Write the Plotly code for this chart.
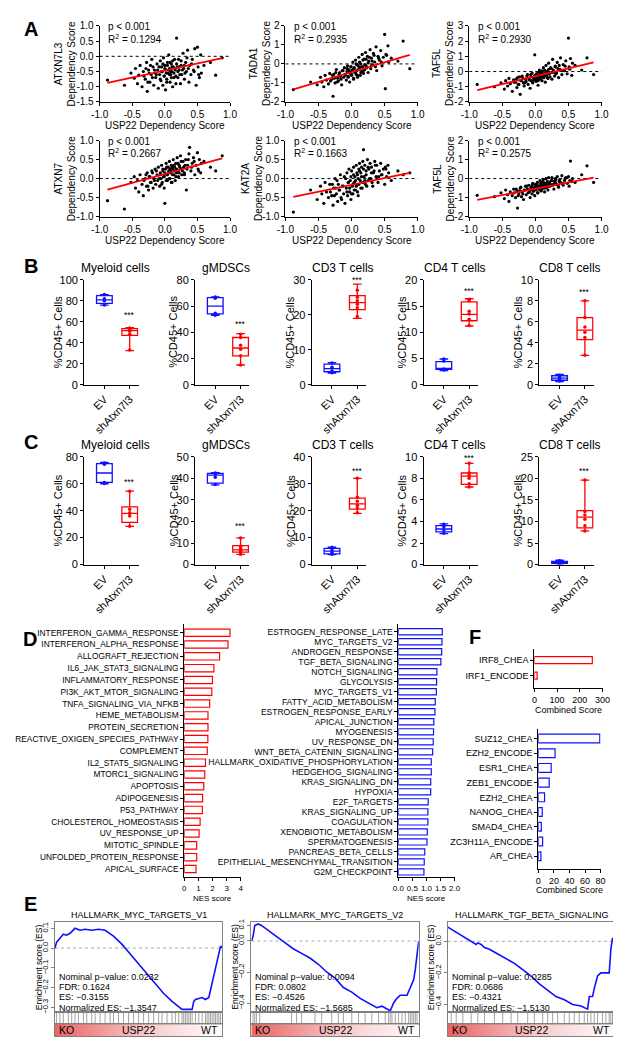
import plotly.graph_objects as go

W, H = 621, 1038
FONT = "Liberation Sans, Arial, Helvetica, sans-serif"
BLUE = "#1010FF"
RED = "#FF0000"

# ---------------- Panel A data (cell lines: USP22 vs partner dependency) ----------------
usp22_score = [
    -0.88, -0.62, -0.52, -0.47, -0.45, -0.42, -0.40, -0.38, -0.35, -0.33,
    -0.30, -0.28, -0.27, -0.25, -0.23, -0.21, -0.20, -0.18, -0.17, -0.15,
    -0.14, -0.12, -0.11, -0.10, -0.08, -0.07, -0.06, -0.05, -0.04, -0.03,
    -0.02, -0.01, 0.00, 0.01, 0.02, 0.03, 0.04, 0.05, 0.06, 0.07,
    0.08, 0.09, 0.10, 0.11, 0.12, 0.13, 0.14, 0.15, 0.16, 0.17,
    0.18, 0.19, 0.20, 0.21, 0.22, 0.24, 0.25, 0.26, 0.28, 0.29,
    0.30, 0.32, 0.33, 0.35, 0.37, 0.38, 0.40, 0.42, 0.44, 0.46,
    0.48, 0.50, 0.51, 0.53, 0.55, 0.56, 0.60, 0.70, 0.78, 0.88,
    -0.32, -0.29, -0.26, -0.24, -0.22, -0.19, -0.16, -0.13, -0.09, -0.07,
    -0.05, -0.03, -0.01, 0.00, 0.02, 0.03, 0.04, 0.06, 0.07, 0.08,
    0.09, 0.10, 0.11, 0.12, 0.14, 0.15, 0.17, 0.18, 0.20, 0.22,
    0.23, 0.25, 0.27, 0.30, 0.31, 0.34, 0.36, 0.41, 0.45, 0.52]
atxn7l3_score = [
    -0.78, -0.95, -0.55, -0.72, -0.40, -0.90, -0.62, -0.30, -1.00, -0.50,
    -0.75, -0.20, -1.15, -0.45, -0.85, -0.60, -0.10, -0.35, -0.95, -0.55,
    -0.70, -0.25, -0.45, -1.05, -0.60, -0.15, -0.80, -0.35, -0.50, -0.95,
    -0.05, -0.65, -0.30, -1.10, -0.45, -0.75, -0.20, -0.55, 0.05, -0.40,
    -0.85, -0.60, -0.25, -0.50, -1.00, -0.35, -0.70, -0.10, -0.45, -0.90,
    0.60, -0.35, -0.70, -0.10, -0.45, -0.90, -0.30, -0.60, 0.10, -0.40,
    -0.75, -0.20, -0.50, 0.20, -0.85, -0.30, -0.60, -0.10, -0.45, 0.25,
    -0.95, 0.30, -0.35, -0.70, 0.05, -0.55, -0.30, -0.20, -0.62, -0.05,
    -0.65, -0.40, -0.85, -0.55, -0.30, -0.70, -0.45, -0.60, -0.35, -0.75,
    -0.50, -0.25, -0.65, -0.40, -0.55, -0.85, -0.30, -0.45, -0.60, -0.20,
    -0.50, -0.70, -0.35, -0.15, -0.55, -0.40, -0.65, -0.25, -0.50, -0.35,
    -0.60, -0.15, -0.45, -0.30, -0.55, -0.05, -0.40, -0.25, -0.50, -0.60]
tada1_score = [
    -1.35, -0.95, -1.10, -0.70, -0.95, -1.20, -0.60, -0.85, -1.05, -0.50,
    -0.80, -1.70, -0.55, -1.00, -0.30, -0.75, -0.90, -0.45, -0.65, -1.10,
    -0.35, -0.70, -0.20, -0.55, -0.85, -0.40, -0.10, -0.65, -0.30, -0.95,
    -0.50, -0.15, -0.60, -0.35, 0.10, -0.80, -0.25, -0.45, 0.20, -0.55,
    -0.05, -0.70, -0.30, 0.35, -0.20, -0.60, 0.00, -0.40, 0.50, -0.15,
    -0.50, 0.25, -0.30, 0.60, -0.10, 0.40, -0.45, 0.15, 0.75, -0.25,
    0.30, -0.05, 0.55, 0.10, 0.90, -0.35, 0.40, 0.20, 0.70, -0.10,
    0.35, 1.55, -1.30, 0.45, 0.95, 0.10, 0.30, 0.15, 1.20, -0.25,
    -0.90, -0.60, -0.75, -0.45, -0.95, -0.55, -0.80, -0.35, -0.60, -0.25,
    -0.70, -0.40, -0.15, -0.55, -0.30, -0.75, -0.20, -0.45, 0.00, -0.35,
    -0.60, -0.10, -0.30, 0.10, -0.45, -0.15, 0.20, -0.35, -0.05, 0.25,
    -0.20, 0.05, 0.35, -0.10, 0.15, 0.45, -0.15, 0.30, 0.10, 0.50]
taf5l_score_a = [
    -0.85, -1.00, -0.75, -1.15, -0.60, -0.95, -0.45, -0.80, -1.30, -0.55,
    -0.70, -1.05, -0.40, -0.85, -1.50, -0.60, -0.30, -0.75, -0.95, -0.50,
    -0.65, -0.20, -0.85, -0.45, -1.10, -0.35, -0.60, -0.10, -0.75, -0.40,
    -0.55, 1.10, -0.30, -0.65, -0.15, -0.45, -0.90, -0.25, 0.10, -0.50,
    -0.35, -0.05, -0.60, -0.20, 0.25, -0.40, -0.10, -0.70, 0.40, -0.25,
    0.00, -0.45, 0.55, -0.15, -0.35, 0.20, -0.50, 0.80, -0.05, -0.30,
    0.35, -0.10, 0.60, -0.40, 0.15, 0.90, -0.20, 0.45, 0.05, 0.70,
    -0.15, 2.20, 0.30, 0.85, -0.25, 0.55, 0.40, 0.10, 0.90, -0.20,
    -0.70, -0.50, -0.85, -0.35, -0.60, -0.45, -0.75, -0.30, -0.55, -0.20,
    -0.65, -0.40, -0.25, -0.50, -0.15, -0.35, -0.60, -0.05, -0.30, -0.45,
    -0.15, 0.05, -0.35, -0.20, 0.10, -0.25, 0.00, -0.40, 0.15, -0.10,
    0.25, -0.05, 0.10, 0.30, -0.15, 0.20, 0.40, 0.05, 0.35, 0.15]
atxn7_score = [
    -0.58, -0.80, -0.10, 0.05, -0.25, -0.05, -0.35, 0.10, -0.15, -0.45,
    0.00, -0.20, 0.15, -0.30, 0.05, -0.10, 0.20, -0.25, 0.00, 0.25,
    -0.15, 0.10, -0.05, 0.30, -0.20, 0.15, 0.00, 0.35, -0.10, 0.20,
    0.05, -0.25, -0.65, 0.25, 0.40, 0.10, -0.05, 0.30, 0.15, 0.45,
    0.00, 0.20, 0.35, -0.10, 0.25, 0.50, 0.10, 0.30, -0.05, 0.40,
    0.15, 0.55, 0.20, 0.05, 0.35, 0.60, 0.25, 0.10, 0.45, 0.30,
    0.15, 0.50, -0.30, 0.35, 0.65, 0.82, 0.20, 0.40, 0.55, 0.10,
    0.35, 0.68, 0.25, 0.50, 0.15, 0.40, 0.45, 0.30, 0.20, 0.60,
    -0.05, 0.10, -0.20, 0.05, -0.10, 0.15, -0.05, 0.20, 0.00, 0.10,
    -0.15, 0.25, 0.05, 0.15, -0.05, 0.30, 0.10, 0.20, 0.00, 0.25,
    0.15, -0.10, 0.30, 0.10, 0.35, 0.20, 0.05, 0.25, 0.40, 0.15,
    0.30, 0.45, 0.20, 0.10, 0.35, 0.25, 0.50, 0.30, 0.45, 0.20]
kat2a_score = [
    -0.88, -0.30, -0.55, -0.20, -0.40, -0.65, -0.10, -0.35, -0.50, -0.15,
    -0.45, -0.70, -0.25, 0.00, -0.40, -0.60, -0.15, -0.30, 0.10, -0.55,
    -0.20, -0.40, 0.05, -0.65, -0.25, 0.15, -0.45, -0.10, 0.25, -0.35,
    -0.05, -0.55, 0.20, -0.20, -0.40, 0.30, -0.10, 0.05, -0.30, 0.35,
    -0.15, 0.10, -0.45, 0.25, 0.40, -0.05, 0.15, 0.30, -0.25, 0.45,
    0.76, 0.05, 0.35, -0.15, 0.20, 0.50, -0.05, 0.25, 0.40, 0.00,
    0.30, -0.20, 0.15, 0.45, 0.05, 0.35, -0.10, 0.20, 0.40, 0.10,
    0.25, -0.15, 0.30, 0.05, 0.35, 0.15, -0.05, 0.20, 0.10, 0.15,
    -0.35, -0.15, -0.45, -0.25, -0.05, -0.30, -0.50, -0.20, 0.00, -0.35,
    -0.10, -0.25, 0.05, -0.40, -0.15, 0.10, -0.30, -0.05, -0.20, 0.15,
    -0.35, 0.00, -0.15, 0.20, -0.25, 0.05, -0.10, 0.25, -0.05, 0.10,
    -0.20, 0.30, 0.00, 0.15, -0.10, 0.20, 0.35, 0.05, 0.10, 0.25]
taf5l_score_b = [
    -0.88, -0.95, -0.75, -1.05, -0.60, -0.85, -1.20, -0.70, -0.90, -0.55,
    -1.00, -0.65, -1.55, -0.80, -0.50, -0.95, -0.70, -1.10, -0.60, -0.40,
    -0.85, -0.55, -0.75, -0.35, -1.00, -0.60, -0.45, -0.80, -0.25, -0.65,
    -0.50, -0.90, -0.30, -0.60, -0.45, -0.20, -0.75, -0.40, -0.55, -0.10,
    -0.35, -0.65, -0.20, -0.50, -0.05, -0.40, -0.70, -0.25, 0.00, -0.45,
    -0.30, -0.60, 0.05, -0.20, -0.40, -0.10, 0.05, -0.35, -0.55, -0.15,
    0.00, -0.30, 0.10, -0.45, -0.05, -0.20, 0.15, -0.35, -0.10, 0.05,
    -0.25, 0.10, -0.40, 0.92, -0.15, 0.00, -0.20, 0.20, 0.67, -0.20,
    -0.75, -0.55, -0.90, -0.65, -0.45, -0.80, -0.60, -0.40, -0.70, -0.50,
    -0.35, -0.65, -0.45, -0.55, -0.30, -0.75, -0.50, -0.40, -0.60, -0.25,
    -0.45, -0.55, -0.35, -0.20, -0.50, -0.30, -0.45, -0.15, -0.40, -0.25,
    -0.35, -0.10, -0.30, -0.20, -0.05, -0.35, -0.15, -0.25, 0.00, -0.10]
a_genes = ["ATXN7L3", "TADA1", "TAF5L", "ATXN7", "KAT2A", "TAF5L"]
a_r2 = ["0.1294", "0.2935", "0.2930", "0.2667", "0.1663", "0.2575"]
a_fit_slope = [0.463, 1.03, 1.03, 0.466, 0.358, 0.665]
a_fit_intercept = [-0.468, -0.43, -0.31, 0.12, -0.165, -0.535]
a_yrange = [[-1.5, 1.0], [-2, 2], [-2, 3], [-1, 1], [-1, 1], [-2, 2]]
a_ydtick = [0.5, 1, 1, 0.5, 0.5, 1]

# ---------------- Panels B / C data ----------------
cell_titles = ["Myeloid cells", "gMDSCs", "CD3 T cells", "CD4 T cells", "CD8 T cells"]
groups = ["EV", "shAtxn7l3"]
b_ymax = [100, 80, 30, 20, 10]
b_dtick = [20, 20, 10, 5, 2]
# stats: [lowerfence, q1, median, q3, upperfence]
b_ev_stats = [[76, 77.5, 81, 85, 86], [53, 54, 60, 66.5, 67], [3.3, 3.7, 4.6, 5.9, 6.3],
              [2.7, 2.9, 3.1, 4.4, 4.9], [0.3, 0.42, 0.62, 0.85, 0.97]]
b_sh_stats = [[32.5, 47, 51.5, 53.5, 54.3], [15, 22, 28, 36, 39], [19, 21.5, 23.5, 25.5, 28.8],
              [11.2, 12.2, 13.4, 15.8, 16.4], [2.8, 4.3, 5.2, 6.4, 8.0]]
b_ev_points = [[76, 80, 82, 86], [53, 54.5, 66, 67], [3.4, 4.0, 5.0, 6.2], [2.8, 3.0, 4.5, 4.9], [0.35, 0.5, 0.7, 0.9]]
b_sh_points = [[33, 48, 51, 52, 53, 54], [15, 22, 27, 30, 36, 38.5], [19.5, 22, 23, 24, 25, 27],
               [11.3, 12.5, 13.5, 14, 16, 16.3], [2.8, 4.5, 5.0, 5.5, 6.4, 8.0]]
c_ymax = [80, 50, 40, 10, 25]
c_dtick = [20, 10, 10, 2, 5]
c_ev_stats = [[60, 61, 68, 75, 75.8], [37, 37.8, 41.5, 42.3, 42.6], [3.7, 4.0, 5.0, 6.0, 6.5],
              [2.88, 3.03, 3.3, 3.62, 3.78], [0.1, 0.3, 0.5, 0.75, 1.0]]
c_sh_stats = [[28.3, 31.3, 38, 42.8, 54.5], [4.7, 5.8, 6.8, 8.8, 12.4], [19, 20.6, 22.5, 24.7, 32],
              [7.2, 7.45, 8.2, 8.5, 9.4], [7.8, 8.5, 11, 12.5, 19.6]]
c_ev_points = [[60.2, 61, 74.5, 75.5], [37.2, 40.5, 42, 42.5], [3.8, 4.5, 5.5, 6.4], [2.9, 3.2, 3.5, 3.75], [0.2, 0.4, 0.6, 0.9]]
c_sh_points = [[28.5, 36, 38, 38.5, 41, 54.5], [4.8, 6, 6.5, 7.5, 8.5, 12.3], [19.2, 21, 22, 23.5, 25, 32],
               [7.2, 7.5, 8.0, 8.3, 8.5, 9.4], [7.8, 9, 10.5, 11.5, 12.3, 19.6]]

# ---------------- Panel D data ----------------
hallmark_up = ["INTERFERON_GAMMA_RESPONSE", "INTERFERON_ALPHA_RESPONSE", "ALLOGRAFT_REJECTION",
               "IL6_JAK_STAT3_SIGNALING", "INFLAMMATORY_RESPONSE", "PI3K_AKT_MTOR_SIGNALING",
               "TNFA_SIGNALING_VIA_NFKB", "HEME_METABOLISM", "PROTEIN_SECRETION",
               "REACTIVE_OXIGEN_SPECIES_PATHWAY", "COMPLEMENT", "IL2_STAT5_SIGNALING",
               "MTORC1_SIGNALING", "APOPTOSIS", "ADIPOGENESIS", "P53_PATHWAY",
               "CHOLESTEROL_HOMEOSTASIS", "UV_RESPONSE_UP", "MITOTIC_SPINDLE",
               "UNFOLDED_PROTEIN_RESPONSE", "APICAL_SURFACE"]
nes_up = [3.24, 3.1, 2.5, 2.1, 2.0, 1.95, 1.8, 1.68, 1.68, 1.67, 1.63, 1.5, 1.45, 1.38,
          1.3, 1.28, 1.12, 1.05, 0.88, 0.88, 0.83]
hallmark_down = ["ESTROGEN_RESPONSE_LATE", "MYC_TARGETS_V2", "ANDROGEN_RESPONSE", "TGF_BETA_SIGNALING",
                 "NOTCH_SIGNALING", "GLYCOLYSIS", "MYC_TARGETS_V1", "FATTY_ACID_METABOLISM",
                 "ESTROGEN_RESPONSE_EARLY", "APICAL_JUNCTION", "MYOGENESIS", "UV_RESPONSE_DN",
                 "WNT_BETA_CATENIN_SIGNALING", "HALLMARK_OXIDATIVE_PHOSPHORYLATION",
                 "HEDGEHOG_SIGNALING", "KRAS_SIGNALING_DN", "HYPOXIA", "E2F_TARGETS",
                 "KRAS_SIGNALING_UP", "COAGULATION", "XENOBIOTIC_METABOLISM", "SPERMATOGENESIS",
                 "PANCREAS_BETA_CELLS", "EPITHELIAL_MESENCHYMAL_TRANSITION", "G2M_CHECKPOINT"]
nes_down = [1.56, 1.55, 1.54, 1.51, 1.37, 1.36, 1.35, 1.31, 1.30, 1.26, 1.25, 1.24, 1.22,
            1.17, 1.17, 1.15, 1.15, 1.06, 1.05, 1.05, 1.03, 1.02, 0.94, 0.92, 0.91]

# ---------------- Panel F data ----------------
tf_up = ["IRF8_CHEA", "IRF1_ENCODE"]
tf_up_score = [255, 12]
tf_down = ["SUZ12_CHEA", "EZH2_ENCODE", "ESR1_CHEA", "ZEB1_ENCODE", "EZH2_CHEA",
           "NANOG_CHEA", "SMAD4_CHEA", "ZC3H11A_ENCODE", "AR_CHEA"]
tf_down_score = [79, 21.5, 16.5, 14, 8, 5, 3.8, 5.5, 3.3]

# ---------------- Panel E data (GSEA running enrichment scores) ----------------
gsea_titles = ["HALLMARK_MYC_TARGETS_V1", "HALLMARK_MYC_TARGETS_V2", "HALLMARK_TGF_BETA_SIGNALING"]
gsea_stats = [["0.0232", "0.1624", "−0.3155", "−1.3547"],
              ["0.0094", "0.0802", "−0.4526", "−1.5685"],
              ["0.0285", "0.0686", "−0.4321", "−1.5130"]]
rank1 = [0, 1, 3, 5, 7, 9, 12, 15, 18, 22, 26, 30, 35, 40, 45, 50, 55, 60, 65, 70, 74, 76, 78, 82,
         83, 84, 88, 90, 92, 94, 96, 98, 99, 100]
es1 = [0.0, 0.03, 0.05, 0.07, 0.065, 0.075, 0.1, 0.09, 0.095, 0.09, 0.095, 0.09, 0.06, 0.02, -0.03,
       -0.08, -0.13, -0.18, -0.23, -0.27, -0.3, -0.31, -0.31, -0.31, -0.27, -0.26, -0.25, -0.26,
       -0.25, -0.18, -0.1, -0.03, 0.01, 0.0]
rank2 = [0, 1, 2, 4, 6, 10, 15, 20, 25, 28, 30, 35, 40, 45, 50, 55, 60, 65, 70, 75, 78, 80, 82,
         83, 85, 87, 89, 93, 95, 97, 98, 99, 100]
es2 = [0.0, 0.03, 0.1, 0.11, 0.1, 0.07, 0.03, -0.01, -0.05, -0.07, -0.08, -0.11, -0.15, -0.2,
       -0.24, -0.3, -0.33, -0.37, -0.4, -0.43, -0.42, -0.43, -0.44, -0.45, -0.4, -0.37, -0.35,
       -0.35, -0.3, -0.25, -0.18, -0.08, 0.0]
rank3 = [0, 3, 6, 9, 12, 15, 17, 18, 20, 22, 25, 30, 35, 40, 45, 50, 55, 60, 65, 70, 75, 80, 82,
         84, 85, 87, 88, 90, 92, 95, 97, 98, 99, 100]
es3 = [0.09, 0.07, 0.05, 0.03, 0.01, -0.01, -0.02, -0.01, -0.02, -0.04, -0.05, -0.08, -0.11,
       -0.14, -0.18, -0.22, -0.27, -0.31, -0.35, -0.37, -0.4, -0.41, -0.42, -0.43, -0.35, -0.35,
       -0.3, -0.22, -0.2, -0.2, -0.2, -0.05, 0.02, 0.01]
hits1 = [1, 3, 5, 8, 10, 12, 14, 17, 19, 22, 24, 27, 30, 33, 35, 38, 41, 44, 47, 50, 53, 56, 59,
         62, 64, 67, 70, 72, 74, 76, 77, 78, 79, 80, 81, 82, 84, 86, 88, 90, 91, 92, 93, 94, 95,
         96, 97, 98, 99]
hits2 = [1, 2, 3, 5, 24, 27, 30, 38, 42, 48, 52, 55, 60, 64, 68, 72, 76, 80, 82, 83, 84, 86, 88,
         90, 92, 94, 95, 96, 97, 98, 99]
hits3 = [2, 5, 9, 14, 18, 22, 28, 33, 38, 42, 48, 52, 57, 60, 63, 66, 70, 73, 76, 79, 82, 84, 86,
         88, 90, 93, 95, 97, 98, 99]
es_yrange = [[-0.325, 0.13], [-0.46, 0.12], [-0.45, 0.12]]
es_ticks = [[0.1, 0.0, -0.1, -0.2, -0.3], [0.1, 0.0, -0.2, -0.4], [0.0, -0.2, -0.4]]

# layout helpers: pixel gap between the upper whisker and the "***" marks
b_star_gap = [15, 12, 7, 10, 11]
c_star_gap = [12, 14, 10, 8, 12]

# ======================================================================
fig = go.Figure()
layout_axes = {}
annotations = []
count = [0]


def add_axes(x0, x1, y0, y1, xa, ya):
    count[0] += 1
    s = "" if count[0] == 1 else str(count[0])
    layout_axes["xaxis" + s] = dict(domain=[x0 / W, x1 / W], anchor="y" + s, **xa)
    layout_axes["yaxis" + s] = dict(domain=[1 - y1 / H, 1 - y0 / H], anchor="x" + s, **ya)
    return "x" + s, "y" + s


def ax(size=10, color="black", **kw):
    d = dict(showline=True, linecolor=color, linewidth=1, ticks="outside", ticklen=3,
             tickwidth=1, tickcolor=color, showgrid=False, zeroline=False,
             tickfont=dict(size=size, color="black", family=FONT))
    d.update(kw)
    return d


def text(x, y, s, size=10, **kw):
    a = dict(x=x / W, y=1 - y / H, xref="paper", yref="paper", text=s, showarrow=False,
             xanchor="center", yanchor="middle",
             font=dict(size=size, color="black", family=FONT))
    a.update(kw)
    annotations.append(a)


def ticks_between(lo, hi, step):
    out, v = [], lo
    while v <= hi + 1e-9:
        out.append(round(v, 4))
        v += step
    return out


# panel letters
for letter, lx, ly in [("A", 14, 15), ("B", 14, 255), ("C", 14, 433), ("D", 13, 632),
                       ("E", 14, 900), ("F", 471, 630)]:
    text(lx, ly, "<b>%s</b>" % letter, size=20, borderpad=0)

# ---------------- Panel A ----------------
a_scores = [atxn7l3_score, tada1_score, taf5l_score_a, atxn7_score, kat2a_score, taf5l_score_b]
a_cols = [(85, 219), (276, 412), (465, 601)]
a_rows = [(12, 89), (128, 205)]
a_ytitle_x = [49, 250, 438, 49, 241, 439]
for k in range(6):
    r, c = divmod(k, 3)
    x0, x1 = a_cols[c]
    y0, y1 = a_rows[r]
    lo, hi = a_yrange[k]
    yt = ticks_between(lo, hi, a_ydtick[k])
    fmt = "{:.1f}" if a_ydtick[k] < 1 else "{:.0f}"
    xt = [-1.0, -0.5, 0.0, 0.5, 1.0]
    xr, yr = add_axes(x0, x1, y0, y1,
                      ax(10, range=[-1, 1], tickvals=xt, ticktext=["{:.1f}".format(v) for v in xt]),
                      ax(10, range=[lo, hi], tickvals=yt, ticktext=[fmt.format(v) for v in yt]))
    fig.add_trace(go.Scatter(x=[-1, 1], y=[0, 0], mode="lines", xaxis=xr, yaxis=yr,
                             line=dict(color="black", width=1, dash="dot"), hoverinfo="skip"))
    fig.add_trace(go.Scatter(x=usp22_score, y=a_scores[k], mode="markers", xaxis=xr, yaxis=yr,
                             marker=dict(size=3.2, color="black"), hoverinfo="skip"))
    fx = [min(usp22_score), max(usp22_score)]
    fig.add_trace(go.Scatter(x=fx, y=[a_fit_intercept[k] + a_fit_slope[k] * v for v in fx],
                             mode="lines", xaxis=xr, yaxis=yr,
                             line=dict(color=RED, width=1.8), hoverinfo="skip"))
    text(x0 + 7, y0 + 1, "p < 0.001", size=10, xanchor="left")
    text(x0 + 7, y0 + 13, "R<sup>2</sup> = " + a_r2[k], size=10, xanchor="left")
    text(a_ytitle_x[k], (y0 + y1) / 2, a_genes[k] + "<br>Dependency Score", size=10, textangle=-90)
    text((x0 + x1) / 2, y1 + 24, "USP22 Dependency Score", size=10)

# ---------------- Panels B & C ----------------
bc_axis_x = [69, 183, 303, 418, 537]
panels = [((269, 375), 257, b_ymax, b_dtick, b_ev_stats, b_sh_stats, b_ev_points, b_sh_points, b_star_gap),
          ((448, 557), 436, c_ymax, c_dtick, c_ev_stats, c_sh_stats, c_ev_points, c_sh_points, c_star_gap)]
for (y0, y1), ty, ymax, dt, evs, shs, evp, shp, gaps in panels:
    for i in range(5):
        x0 = bc_axis_x[i]
        x1 = x0 + 56
        yt = ticks_between(0, ymax[i], dt[i])
        xr, yr = add_axes(x0, x1, y0, y1,
                          ax(11, range=[-0.8, 1.35], tickvals=[0, 1], ticktext=groups, tickangle=-45),
                          ax(11, range=[0, ymax[i]], tickvals=yt))
        for pos, st, pts, col in [(0, evs[i], evp[i], BLUE), (1, shs[i], shp[i], RED)]:
            fig.add_trace(go.Box(x=[pos], lowerfence=[st[0]], q1=[st[1]], median=[st[2]],
                                 q3=[st[3]], upperfence=[st[4]], orientation="v", width=0.62,
                                 whiskerwidth=0.55, line=dict(color=col, width=1.3),
                                 fillcolor="rgba(0,0,0,0)", boxpoints=False,
                                 xaxis=xr, yaxis=yr, hoverinfo="skip"))
            fig.add_trace(go.Scatter(x=[pos] * len(pts), y=pts, mode="markers", xaxis=xr, yaxis=yr,
                                     marker=dict(size=3.5, color=col), hoverinfo="skip"))
        annotations.append(dict(x=1, y=shs[i][4], xref=xr, yref=yr, text="***", showarrow=False,
                                xanchor="center", yanchor="middle", yshift=gaps[i] - 2.5,
                                font=dict(size=8.5, color="black", family=FONT)))
        text((x0 + x1) / 2 + 4, ty, cell_titles[i], size=12)
        text(42 if i == 0 else x0 - 22, (y0 + y1) / 2, "%CD45+ Cells", size=11, textangle=-90)

# ---------------- Panel D ----------------
xr, yr = add_axes(172, 230, 617, 873,
                  ax(8, range=[0, 4], tickvals=[0, 1, 2, 3, 4]),
                  ax(8.35, type="category", range=[20.67, -0.75], categoryorder="array",
                     categoryarray=hallmark_up))
fig.add_trace(go.Bar(x=nes_up, y=hallmark_up, orientation="h", width=0.62, xaxis=xr, yaxis=yr,
                     marker=dict(color="white", line=dict(color=RED, width=1.2)), hoverinfo="skip"))
text(201, 895, "NES score", size=8)
dx = [0.0, 0.5, 1.0, 1.5, 2.0]
xr, yr = add_axes(392, 450, 617, 873,
                  ax(8, range=[0, 2], tickvals=dx, ticktext=["{:.1f}".format(v) for v in dx]),
                  ax(8.5, type="category", range=[24.5, -0.79], categoryorder="array",
                     categoryarray=hallmark_down))
fig.add_trace(go.Bar(x=nes_down, y=hallmark_down, orientation="h", width=0.62, xaxis=xr, yaxis=yr,
                     marker=dict(color="white", line=dict(color=BLUE, width=1.2)), hoverinfo="skip"))
text(421, 895, "NES score", size=8)

# ---------------- Panel F ----------------
xr, yr = add_axes(532, 602, 642, 682,
                  ax(9, range=[0, 300], tickvals=[0, 100, 200, 300]),
                  ax(9, type="category", range=[1.81, -0.75], categoryorder="array", categoryarray=tf_up))
fig.add_trace(go.Bar(x=tf_up_score, y=tf_up, orientation="h", width=0.45, xaxis=xr, yaxis=yr,
                     marker=dict(color="white", line=dict(color=RED, width=1.2)), hoverinfo="skip"))
text(567, 704, "Combined Score", size=9)
xr, yr = add_axes(536, 600, 723, 865,
                  ax(9, range=[0, 80], tickvals=[0, 20, 40, 60, 80]),
                  ax(9, type="category", range=[8.87, -0.67], categoryorder="array", categoryarray=tf_down))
fig.add_trace(go.Bar(x=tf_down_score, y=tf_down, orientation="h", width=0.6, xaxis=xr, yaxis=yr,
                     marker=dict(color="white", line=dict(color=BLUE, width=1.2)), hoverinfo="skip"))
text(568, 886, "Combined Score", size=9)

# ---------------- Panel E ----------------
FRAME = "#808080"
e_cols = [(39, 211), (241, 413), (443, 614)]
ranks = [rank1, rank2, rank3]
ess = [es1, es2, es3]
hits = [hits1, hits2, hits3]
for j in range(3):
    x0, x1 = e_cols[j]
    noax = dict(showline=True, mirror=True, linecolor=FRAME, linewidth=1, showgrid=False,
                zeroline=False, showticklabels=False, ticks="")
    xr, yr = add_axes(x0, x1, 919, 1010, dict(noax, range=[0, 100]),
                      ax(7.5, color=FRAME, range=es_yrange[j], mirror=True, tickangle=-90,
                         tickvals=es_ticks[j],
                         ticktext=[("{:.1f}".format(v)).replace("-", "−") for v in es_ticks[j]]))
    fig.add_trace(go.Scatter(x=[0, 100], y=[0, 0], mode="lines", xaxis=xr, yaxis=yr,
                             line=dict(color="#aaaaaa", width=1, dash="dot"), hoverinfo="skip"))
    fig.add_trace(go.Scatter(x=ranks[j], y=ess[j], mode="lines", xaxis=xr, yaxis=yr,
                             line=dict(color=BLUE, width=1.6), hoverinfo="skip"))
    # barcode strip
    xr2, yr2 = add_axes(x0, x1, 1010, 1022, dict(noax, range=[0, 100]), dict(noax, range=[0, 1]))
    bx, by = [], []
    for h in hits[j]:
        bx += [h, h, None]
        by += [0, 1, None]
    fig.add_trace(go.Scatter(x=bx, y=by, mode="lines", xaxis=xr2, yaxis=yr2,
                             line=dict(color="rgba(90,90,90,0.55)", width=1), hoverinfo="skip"))
    # gradient bar
    xr3, yr3 = add_axes(x0, x1, 1022, 1034, dict(noax, range=[0, 100]), dict(noax, range=[0, 1]))
    fig.add_trace(go.Scatter(x=[0, 100, 100, 0, 0], y=[0, 0, 1, 1, 0], mode="lines", fill="toself",
                             xaxis=xr3, yaxis=yr3, line=dict(width=0, color="rgba(0,0,0,0)"),
                             fillgradient=dict(type="horizontal",
                                               colorscale=[[0, "#EC6464"], [0.55, "#F7CACA"], [1, "#FFFFFF"]]),
                             hoverinfo="skip"))
    text(x0 + 2, 1028, "KO", size=10.5, xanchor="left")
    text((x0 + x1) / 2, 1028, "USP22", size=10.5)
    text(x1 - 2, 1028, "WT", size=10.5, xanchor="right")
    text((x0 + x1) / 2, 912, gsea_titles[j], size=9)
    text(x0 - 17, 964, "Enrichment score (ES)", size=8.5, textangle=-90)
    st = gsea_stats[j]
    for line_y, s in zip([974, 984.5, 995, 1005.5],
                         ["Nominal p−value: " + st[0], "FDR: " + st[1], "ES: " + st[2],
                          "Normalized ES: " + st[3]]):
        text(x0 + 2, line_y, s, size=9, xanchor="left")

fig.update_layout(width=W, height=H, margin=dict(l=0, r=0, t=0, b=0), showlegend=False,
                  paper_bgcolor="white", plot_bgcolor="rgba(0,0,0,0)",
                  font=dict(family=FONT, color="black"), annotations=annotations, **layout_axes)
fig.write_html("out.html", config={"displayModeBar": False})
